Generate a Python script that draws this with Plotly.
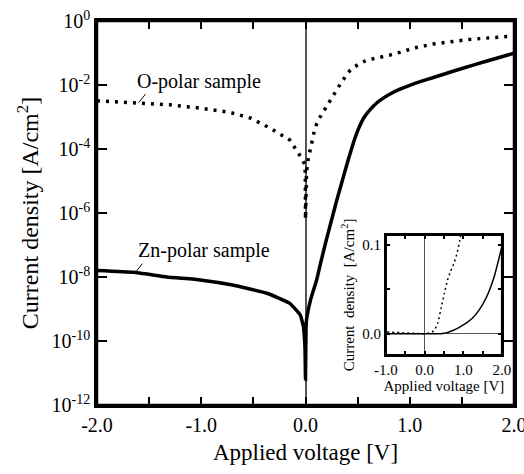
import plotly.graph_objects as go

# ---- data ----
# O-polar sample: voltage [V] and |current density| [A/cm^2]
v_o = [-2.0, -1.8, -1.59, -1.3, -1.01, -0.85, -0.72, -0.53, -0.34, -0.15, -0.084, -0.036, -0.005,
       -0.002, 0.0, 0.002, 0.01, 0.027, 0.059, 0.091, 0.123, 0.171, 0.219, 0.267, 0.30, 0.347,
       0.43, 0.51, 0.59, 0.67, 0.75, 0.83, 0.91, 1.05, 1.22, 1.38, 1.55, 1.78, 2.0]
j_o = [3.2e-3, 3.0e-3, 2.8e-3, 2.4e-3, 1.9e-3, 1.6e-3, 1.38e-3, 9.3e-4, 4.5e-4, 1.9e-4, 9.3e-5, 5.1e-5, 3.2e-5,
       1.5e-5, 6.3e-7, 1.0e-5, 2.0e-5, 5.1e-5, 1.5e-4, 4.5e-4, 8.1e-4, 1.48e-3, 2.7e-3, 4.9e-3, 7.9e-3, 1.26e-2,
       2.95e-2, 4.5e-2, 6.0e-2, 7.0e-2, 7.8e-2, 8.9e-2, 1.05e-1, 1.45e-1, 1.9e-1, 2.25e-1, 2.6e-1, 3.0e-1, 3.4e-1]

# Zn-polar sample
v_zn = [-2.0, -1.65, -1.33, -1.01, -0.70, -0.37, -0.15, -0.05, -0.02, -0.005, 0.0,
        0.005, 0.01, 0.05, 0.107, 0.15, 0.2, 0.3, 0.41, 0.46, 0.507, 0.56, 0.62, 0.68, 0.746, 0.82, 0.906,
        1.0, 1.1, 1.22, 1.4, 1.6, 1.8, 2.0]
j_zn = [1.6e-8, 1.4e-8, 1.0e-8, 8.1e-9, 5.6e-9, 3.1e-9, 1.5e-9, 6.5e-10, 2.8e-10, 6.3e-11, 6.3e-12,
        2.5e-10, 4.6e-10, 2.0e-9, 8.1e-9, 3.2e-8, 1.45e-7, 2.5e-6, 4.6e-5, 1.6e-4, 4.2e-4, 9.5e-4, 1.7e-3, 2.7e-3, 3.9e-3, 5.4e-3, 7.4e-3,
        9.8e-3, 1.28e-2, 1.68e-2, 2.6e-2, 4.1e-2, 6.4e-2, 9.8e-2]

x_tickvals = [-2.0, -1.5, -1.0, -0.5, 0.0, 0.5, 1.0, 1.5, 2.0]
x_ticktext = ["-2.0", "", "-1.0", "", "0.0", "", "1.0", "", "2.0"]
y_tickvals = [1e-12, 1e-10, 1e-8, 1e-6, 1e-4, 1e-2, 1e0]
y_ticktext = ["10<sup>-12</sup>", "10<sup>-10</sup>", "10<sup>-8</sup>", "10<sup>-6</sup>",
              "10<sup>-4</sup>", "10<sup>-2</sup>", "10<sup>0</sup>"]
in_x_tickvals = [-1.0, -0.5, 0.0, 0.5, 1.0, 1.5, 2.0]
in_x_ticktext = ["-1.0", "", "0.0", "", "1.0", "", "2.0"]
in_y_tickvals = [0.0, 0.05, 0.1]
in_y_ticktext = ["0.0", "", "0.1"]

FONT = "Liberation Serif"


def f(size):
    return dict(family=FONT, size=size, color="black")


fig = go.Figure()

# main panel
fig.add_trace(go.Scatter(x=v_o, y=j_o, mode="lines", line=dict(color="black", width=3.5, dash="3px,6px"),
                         xaxis="x", yaxis="y", showlegend=False))
fig.add_trace(go.Scatter(x=v_zn, y=j_zn, mode="lines", line=dict(color="black", width=3.5, shape="spline", smoothing=0.3),
                         xaxis="x", yaxis="y", showlegend=False))
# inset panel (linear scale)
fig.add_trace(go.Scatter(x=v_o, y=j_o, mode="lines", line=dict(color="black", width=1.5, dash="2px,3px", shape="spline", smoothing=0.5),
                         xaxis="x2", yaxis="y2", showlegend=False))
fig.add_trace(go.Scatter(x=v_zn, y=j_zn, mode="lines", line=dict(color="black", width=1.5, shape="spline", smoothing=0.5),
                         xaxis="x2", yaxis="y2", showlegend=False))

axis_common = dict(showline=True, mirror="ticks", linecolor="black", showgrid=False,
                   ticks="inside", tickcolor="black", automargin=False, ticklabeloverflow="allow")

fig.update_layout(
    width=524, height=474,
    margin=dict(l=97, r=10, t=21, b=69),
    paper_bgcolor="white", plot_bgcolor="white",
    font=f(20),
    xaxis=dict(**axis_common, range=[-2.0, 2.0], tickvals=x_tickvals, ticktext=x_ticktext,
               linewidth=2.5, ticklen=8, tickwidth=2, tickfont=f(20),
               zeroline=True, zerolinecolor="#555555", zerolinewidth=1.5,
               title=dict(text="Applied voltage [V]", font=f(23), standoff=10)),
    yaxis=dict(**axis_common, type="log", range=[-12, 0], tickvals=y_tickvals, ticktext=y_ticktext,
               linewidth=2.5, ticklen=10, tickwidth=2, tickfont=f(20),
               title=dict(text="Current density [A/cm<sup>2</sup>]", font=f(24), standoff=7)),
    xaxis2=dict(**axis_common, domain=[0.693, 0.971], anchor="y2", range=[-1.0, 2.0],
                tickvals=in_x_tickvals, ticktext=in_x_ticktext, linewidth=2, ticklen=4, tickwidth=1.5,
                tickfont=f(15), zeroline=True, zerolinecolor="#555555", zerolinewidth=1,
                title=dict(text="Applied voltage [V]", font=f(15), standoff=2)),
    yaxis2=dict(**axis_common, domain=[0.130, 0.443], anchor="x2", range=[-0.024, 0.111],
                tickvals=in_y_tickvals, ticktext=in_y_ticktext, linewidth=2, ticklen=4, tickwidth=1.5,
                tickfont=f(15), zeroline=True, zerolinecolor="#555555", zerolinewidth=1,
                title=dict(text="Current  density  [A/cm<sup>2</sup>]", font=f(15), standoff=4)),
    shapes=[
        dict(type="rect", xref="x domain", yref="y domain", x0=0, x1=1, y0=0, y1=1,
             line=dict(color="black", width=2.5), fillcolor="rgba(0,0,0,0)", layer="above"),
        dict(type="rect", xref="x2 domain", yref="y2 domain", x0=0, x1=1, y0=0, y1=1,
             line=dict(color="black", width=2), fillcolor="rgba(0,0,0,0)", layer="above"),
    ],
    annotations=[
        dict(x=-1.6, y=-2.55, xref="x", yref="y", text="", showarrow=True, arrowhead=0,
             arrowwidth=1, arrowcolor="black", ax=8, ay=-10),
        dict(x=-1.02, y=-1.88, xref="x", yref="y", text="O-polar sample", showarrow=False,
             font=f(20)),
        dict(x=-1.63, y=-7.85, xref="x", yref="y", text="", showarrow=True, arrowhead=0,
             arrowwidth=1, arrowcolor="black", ax=8, ay=-10),
        dict(x=-0.97, y=-7.18, xref="x", yref="y", text="Zn-polar sample", showarrow=False,
             font=f(20)),
    ],
)

fig.write_html("out.html", config={"displayModeBar": False},
               post_script="document.body.style.margin='0';document.body.style.overflow='hidden';")
